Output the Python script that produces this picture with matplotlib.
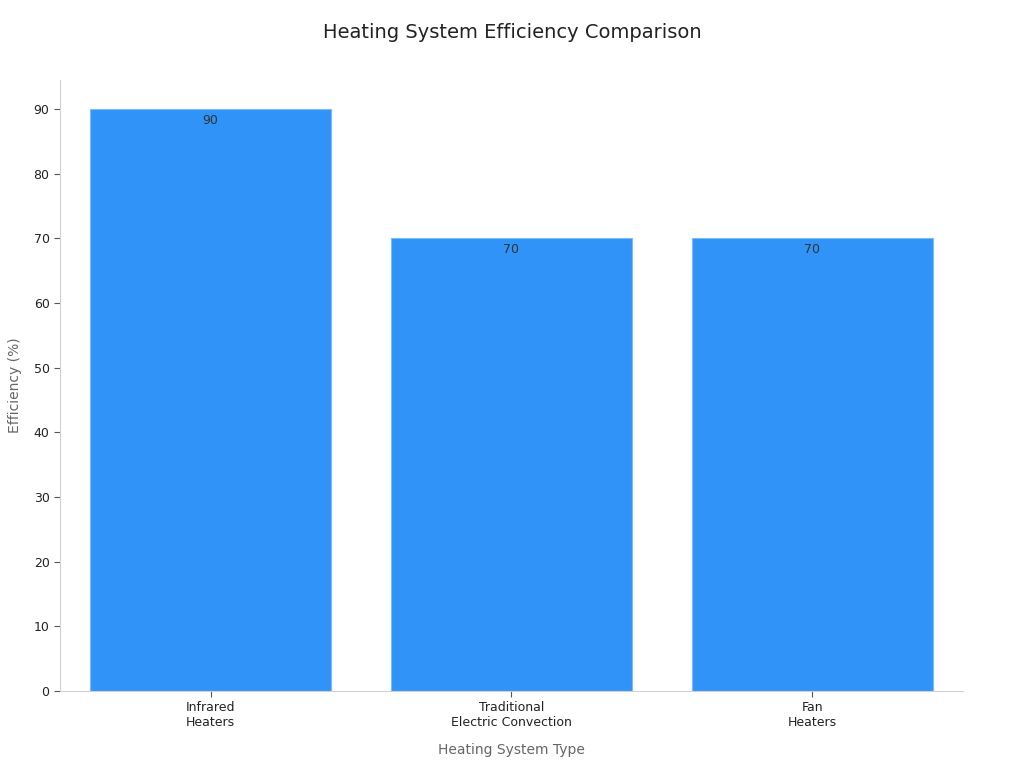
import matplotlib
matplotlib.use('Agg')
import matplotlib.pyplot as plt

categories = ['Infrared\nHeaters', 'Traditional\nElectric Convection', 'Fan\nHeaters']
efficiency = [90, 70, 70]
yticks = [0, 10, 20, 30, 40, 50, 60, 70, 80, 90]

fig = plt.figure(figsize=(10.24, 7.68), dpi=100)
ax = fig.add_axes([0.0586, 0.1003, 0.8818, 0.7955])

x = range(len(categories))
bars = ax.bar(x, efficiency, width=0.8, color='#2F93F8', edgecolor='#7DBBF8', linewidth=0.8)

for xi, v in zip(x, efficiency):
    ax.annotate(str(v), (xi, v), xytext=(0, -8), textcoords='offset points',
                ha='center', va='center', fontsize=9, color='#333333')

ax.set_xlim(-0.5, 2.5)
ax.set_ylim(0, 94.5)
ax.set_yticks(yticks)
ax.set_xticks(list(x))
ax.set_xticklabels(categories, fontsize=9, color='#222222')
ax.tick_params(axis='y', labelsize=9, labelcolor='#222222', color='#555555', length=4)
ax.tick_params(axis='x', color='#555555', length=4)

for side in ['top', 'right']:
    ax.spines[side].set_visible(False)
for side in ['left', 'bottom']:
    ax.spines[side].set_color('#D0D0D0')

ax.set_xlabel('Heating System Type', fontsize=10, color='#666666', labelpad=10)
ax.set_ylabel('Efficiency (%)', fontsize=10, color='#666666', labelpad=8)
fig.suptitle('Heating System Efficiency Comparison', fontsize=14, color='#222222', y=0.97)

fig.savefig('out.png', dpi=100)
